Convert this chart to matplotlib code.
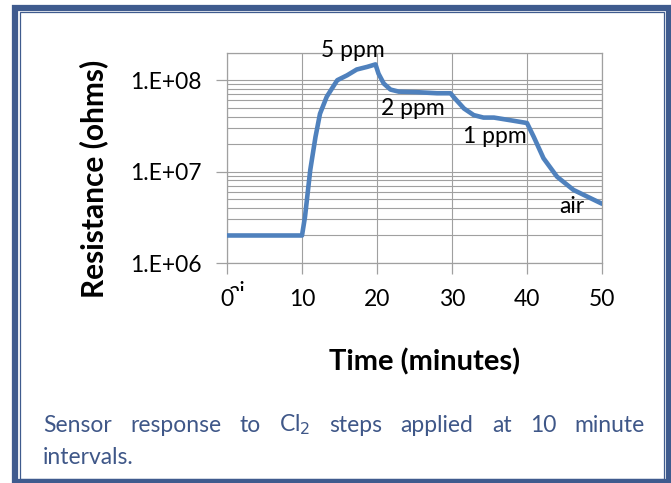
import numpy as np
import matplotlib.pyplot as plt
from matplotlib.patches import Rectangle
from matplotlib.transforms import Bbox, TransformedBbox
from matplotlib.ticker import LogLocator, FixedLocator

plt.rcParams['font.family'] = ['Lato', 'DejaVu Sans']

# veriler
zaman = [0, 10, 10.4, 11.1, 11.8, 12.4, 13.3, 14.7, 16.0, 17.3, 18.7, 19.8,
         20.2, 20.9, 21.8, 22.9, 25.3, 28.0, 29.8, 30.4, 31.6, 32.9, 34.2,
         35.6, 38.2, 40.0, 40.9, 42.2, 44.0, 46.2, 50.0]
direnc = [2.0e6, 2.0e6, 3.2e6, 1.04e7, 2.4e7, 4.3e7, 6.6e7, 1.0e8, 1.13e8,
          1.31e8, 1.40e8, 1.49e8, 1.18e8, 9.2e7, 7.9e7, 7.5e7, 7.4e7, 7.2e7,
          7.2e7, 6.3e7, 4.9e7, 4.15e7, 3.9e7, 3.9e7, 3.6e7, 3.4e7, 2.4e7,
          1.4e7, 8.8e6, 6.3e6, 4.45e6]
x_ticks = [0, 10, 20, 30, 40, 50]
y_ticks = [1e6, 1e7, 1e8]
y_labels = ['1.E+06', '1.E+07', '1.E+08']
etiketler = ['5 ppm', '2 ppm', '1 ppm', 'air']
etiket_yerleri = [(16.8, 2.1e8), (24.8, 4.95e7), (35.7, 2.4e7), (46.0, 4.2e6)]

mavi = '#4F81BD'
kenar = '#3F5B8E'
gri = '#A0A0A0'
fs = 16.5

fig = plt.figure(figsize=(6.71, 4.83), dpi=100)

# dis cerceve
fig.patches.append(Rectangle((14.5 / 671, 1 - 481.5 / 483), 654 / 671, 474 / 483,
                             transform=fig.transFigure, fill=False,
                             edgecolor=kenar, linewidth=4.5))
fig.patches.append(Rectangle((19.5 / 671, 1 - 478.5 / 483), 644.5 / 671, 466.5 / 483,
                             transform=fig.transFigure, fill=False,
                             edgecolor=kenar, linewidth=0.9))

ax = fig.add_axes([227 / 671, 1 - 263 / 483, 375 / 671, 210.3 / 483])
ax.plot(zaman, direnc, color=mavi, linewidth=3.3, solid_capstyle='round',
        solid_joinstyle='round', zorder=3)
ax.set_yscale('log')
ax.set_xlim(0, 50)
ax.set_ylim(1e6, 2e8)

ax.yaxis.set_major_locator(FixedLocator(y_ticks))
ax.set_yticklabels(y_labels)
ax.yaxis.set_minor_locator(LogLocator(base=10, subs=np.arange(2, 10)))
ax.set_xticks(x_ticks)
ax.set_xticklabels([str(t) for t in x_ticks])

ax.grid(True, which='both', axis='y', color=gri, linewidth=0.8)
ax.grid(True, which='major', axis='x', color=gri, linewidth=0.8)
for s in ax.spines.values():
    s.set_color(gri)
    s.set_linewidth(0.9)
ax.tick_params(axis='both', which='major', length=8, width=0.9, color=gri,
               labelsize=fs)
ax.tick_params(axis='y', which='major', pad=10)
ax.tick_params(axis='x', which='major', pad=11)
ax.tick_params(axis='y', which='minor', length=0)

for t, (xx, yy) in zip(etiketler, etiket_yerleri):
    ax.text(xx, yy, t, fontsize=fs, ha='center', va='center', zorder=4,
            clip_on=False)

ax.set_ylabel('Resistance (ohms)', fontsize=21.5, fontweight='bold', va='center')
ax.yaxis.set_label_coords(-0.355, 0.40)
ax.set_xlabel('Time (minutes)', fontsize=21, fontweight='bold', va='center')
ax.xaxis.set_label_coords(0.528, -0.471)

# kirpilmis "air" yazisi (sadece ust kismi gorunuyor)
kes = TransformedBbox(Bbox([[0, 1 - 291 / 483], [244 / 671, 1]]), fig.transFigure)
ai = fig.text(228 / 671, 1 - 281 / 483, 'air', fontsize=fs, ha='left', va='top',
              zorder=0.5)
ai.set_clip_box(kes)
ai.set_clip_on(True)

# alt yazi (iki yana yaslanmis)
yazi_rengi = '#3F5788'
satir1 = ['Sensor', 'response', 'to', 'Cl$_2$', 'steps', 'applied', 'at', '10', 'minute']
sol, sag = 43 / 671, 645 / 671
fig.canvas.draw()
r = fig.canvas.get_renderer()
kelimeler = [fig.text(0, 1 - 425 / 483, w, fontsize=fs, color=yazi_rengi,
                      va='center', ha='left') for w in satir1]
genislik = [k.get_window_extent(r).width / fig.bbox.width for k in kelimeler]
bosluk = (sag - sol - sum(genislik)) / (len(satir1) - 1)
xpos = sol
for k, g in zip(kelimeler, genislik):
    k.set_x(xpos)
    xpos += g + bosluk
fig.text(sol, 1 - 458 / 483, 'intervals.', fontsize=fs, color=yazi_rengi,
         va='center', ha='left')

fig.savefig('out.png', dpi=100)
